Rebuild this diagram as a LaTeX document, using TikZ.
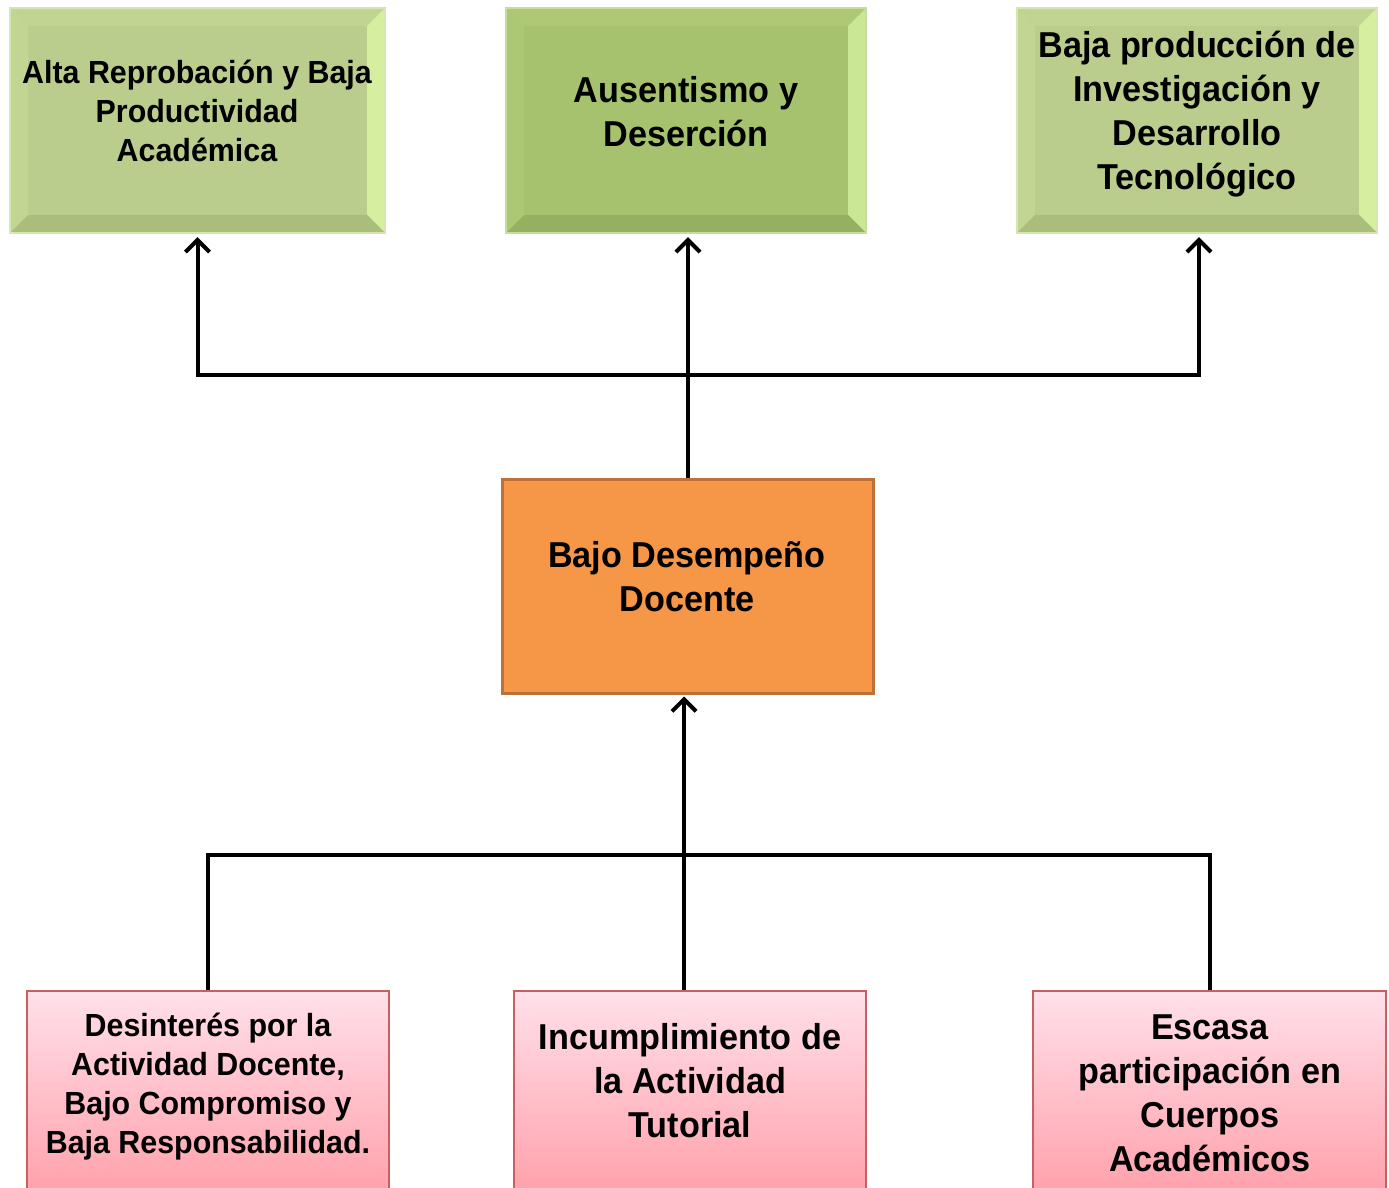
\documentclass[tikz,border=0pt]{standalone}
\usepackage{fontspec}
\setmainfont[FakeStretch=0.95]{Liberation Sans}
\usetikzlibrary{arrows.meta,calc}

\definecolor{glight}{HTML}{BBCD8C}
\definecolor{glightT}{HTML}{C2D492}
\definecolor{glightL}{HTML}{C2D592}
\definecolor{glightR}{HTML}{D5EE9F}
\definecolor{glightB}{HTML}{ABBD7D}
\definecolor{glightE}{HTML}{D4E7AE}
\definecolor{gdark}{HTML}{A6C26E}
\definecolor{gdarkT}{HTML}{AEC876}
\definecolor{gdarkL}{HTML}{ADC875}
\definecolor{gdarkR}{HTML}{C9E795}
\definecolor{gdarkB}{HTML}{96B061}
\definecolor{gdarkE}{HTML}{C6DDA0}
\definecolor{orfill}{HTML}{F69647}
\definecolor{ordraw}{HTML}{BD7038}
\definecolor{pktop}{HTML}{FFE0EA}
\definecolor{pkbot}{HTML}{FFA1AB}
\definecolor{pkdraw}{HTML}{C95F63}

% bevelled edges of a box node: #1 node, #2 width, #3..#6 top/left/right/bottom colours
\newcommand{\bevelframe}[6]{%
  \fill[#3] (#1.north west) -- (#1.north east) -- ($(#1.north east)+(-#2,#2)$) -- ($(#1.north west)+(#2,#2)$) -- cycle;
  \fill[#4] (#1.north west) -- ($(#1.north west)+(#2,#2)$) -- ($(#1.south west)+(#2,-#2)$) -- (#1.south west) -- cycle;
  \fill[#5] (#1.north east) -- ($(#1.north east)+(-#2,#2)$) -- ($(#1.south east)+(-#2,-#2)$) -- (#1.south east) -- cycle;
  \fill[#6] (#1.south west) -- ($(#1.south west)+(#2,-#2)$) -- ($(#1.south east)+(-#2,-#2)$) -- (#1.south east) -- cycle;
}

\tikzset{
  box/.style={rectangle, inner sep=0pt, minimum width=#1},
  effectbox/.style={box=#1, minimum height=225pt},
  causebox/.style={box=#1, minimum height=202pt, top color=pktop, bottom color=pkbot,
    draw=pkdraw, line width=2pt},
  corebox/.style={box=#1, minimum height=214pt, fill=orfill, draw=ordraw, line width=3pt},
  txtsmall/.style={align=center, font=\bfseries\fontsize{32}{39}\selectfont, inner sep=0pt},
  txtbig/.style={align=center, font=\bfseries\fontsize{36}{44}\selectfont, inner sep=0pt},
  link/.style={line width=4pt, line join=miter, black},
  linkarrow/.style={link, -{Straight Barb[length=12pt, width=24pt, line width=4pt]}},
}

\begin{document}
\begin{tikzpicture}[x=1pt, y=-1pt]
\useasboundingbox[fill=white] (0,0) rectangle (1389,1188);

% effects (top row)
\node[effectbox=375pt, fill=glight] (efA) at (197.5,120.5) {};
\bevelframe{efA}{18}{glightT}{glightL}{glightR}{glightB}
\draw[glightE, line width=1.5pt] (efA.north west) rectangle (efA.south east);
\node[effectbox=360pt, fill=gdark] (efB) at (686,120.5) {};
\bevelframe{efB}{18}{gdarkT}{gdarkL}{gdarkR}{gdarkB}
\draw[gdarkE, line width=1.5pt] (efB.north west) rectangle (efB.south east);
\node[effectbox=360pt, fill=glight] (efC) at (1197,120.5) {};
\bevelframe{efC}{18}{glightT}{glightL}{glightR}{glightB}
\draw[glightE, line width=1.5pt] (efC.north west) rectangle (efC.south east);

\node[txtsmall] (efAtxt) at (197,111) {Alta Reprobación y Baja\\Productividad\\Académica};
\node[txtbig] (efBtxt) at (686,112) {Ausentismo y\\Deserción};
\node[txtbig] (efCtxt) at (1197,114) {Baja producción de\\Investigación y\\Desarrollo\\Tecnológico};

% central problem
\node[corebox=371pt] (core) at (687.5,586) {};
\node[txtbig] (coretxt) at (687,577) {Bajo Desempeño\\Docente};

% causes (bottom row)
\node[causebox=362pt] (caA) at (208,1092) {};
\node[causebox=352pt] (caB) at (690,1092) {};
\node[causebox=353pt] (caC) at (1209.5,1092) {};
\node[txtsmall] (caAtxt) at (208,1087) {Desinterés por la\\Actividad Docente,\\Bajo Compromiso y\\Baja Responsabilidad.};
\node[txtbig] (caBtxt) at (690,1081) {Incumplimiento de\\la Actividad\\Tutorial};
\node[txtbig] (caCtxt) at (1210,1093) {Escasa\\participación en\\Cuerpos\\Académicos};

% connectors: problem -> effects
\coordinate (topjoin) at (688,375);
\draw[linkarrow] (core.north -| topjoin) -- ([yshift=-4pt]efB.south -| topjoin);
\draw[linkarrow] (topjoin) -| ([yshift=-4pt]efA.south);
\draw[linkarrow] (topjoin) -| ([xshift=2pt,yshift=-4pt]efC.south);

% connectors: causes -> problem
\coordinate (botjoin) at (684,855);
\draw[link] (caA.north) |- (botjoin) -| (caC.north);
\draw[linkarrow] (caB.north -| botjoin) -- ([yshift=-2pt]core.south -| botjoin);
\end{tikzpicture}
\end{document}
